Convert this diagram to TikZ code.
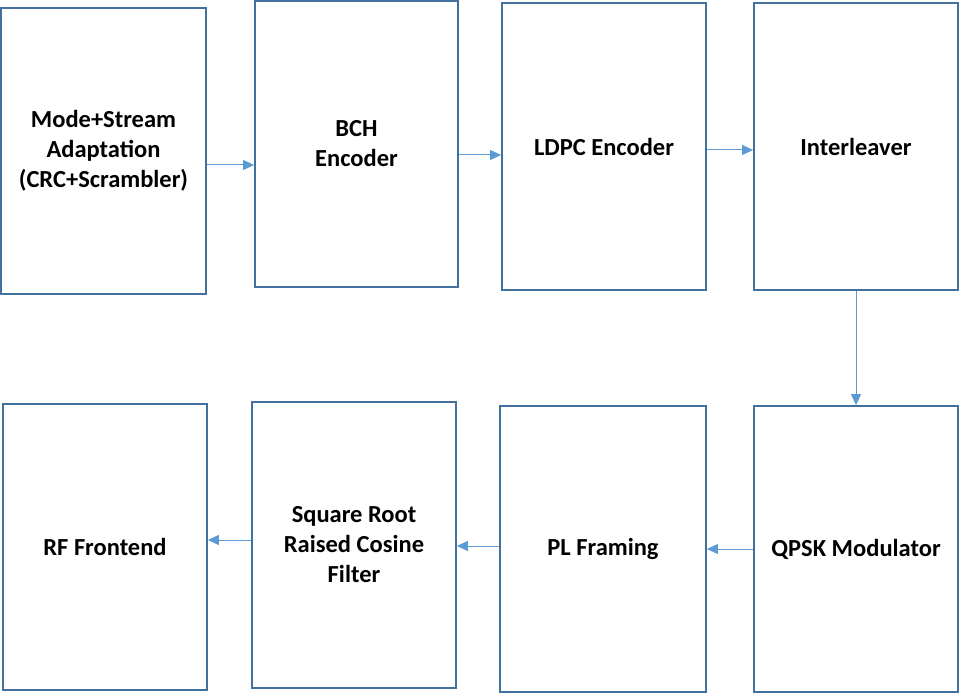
\documentclass[tikz,border=0pt]{standalone}
\usepackage{fontspec}
\setmainfont{Carlito}
\usetikzlibrary{arrows.meta}
\usetikzlibrary{positioning}
\usepackage{xcolor}
\definecolor{boxline}{HTML}{41719C}
\definecolor{arrowline}{HTML}{5B9BD5}

\tikzset{
	block/.style={draw=boxline, line width=1.8pt, minimum width=204pt, minimum height=286pt,
		inner sep=0pt, align=center, font=\bfseries\fontsize{24.5}{30}\selectfont},
	flow/.style={draw=arrowline, line width=1pt, -{Triangle[length=11pt, width=10pt]}}
}

\begin{document}
\begin{tikzpicture}[x=1pt, y=-1pt]
		\useasboundingbox (0,0) rectangle (960,695);
		
		% top row
		\node[block, minimum width=205pt] (mode) at (103.5,151) {Mode+Stream\\Adaptation\\(CRC+Scrambler)};
		\node[block, minimum width=203pt] (bch) at (356.5,144) {BCH\\Encoder};
		\node[block, minimum height=287pt] (ldpc) at (604,146.5) {LDPC Encoder};
		\node[block, minimum height=287pt] (inter) at (856,146.5) {Interleaver};
		
		% bottom row
		\node[block] (rf) at (105,547) {RF Frontend};
		\node[block] (srrc) at (354,545) {Square Root\\Raised Cosine\\Filter};
		\node[block, minimum width=206pt] (plf) at (603,549) {PL Framing};
		\node[block] (qpsk) at (856,549) {QPSK Modulator};
		
		\draw[flow] ([yshift=-14pt]mode.east) -- ([yshift=-21pt]bch.west);
		\draw[flow] ([yshift=-11pt]bch.east) -- ([yshift=-8.5pt]ldpc.west);
		\draw[flow] ([yshift=-3.5pt]ldpc.east) -- ([yshift=-3.5pt]inter.west);
		\draw[flow] (inter.south) -- (qpsk.north);
		\draw[flow] (qpsk.west) -- (plf.east);
		\draw[flow] ([yshift=3pt]plf.west) -- ([yshift=-1pt]srrc.east);
		\draw[flow] ([yshift=5pt]srrc.west) -- ([yshift=7pt]rf.east);
	\end{tikzpicture}
\end{document}
